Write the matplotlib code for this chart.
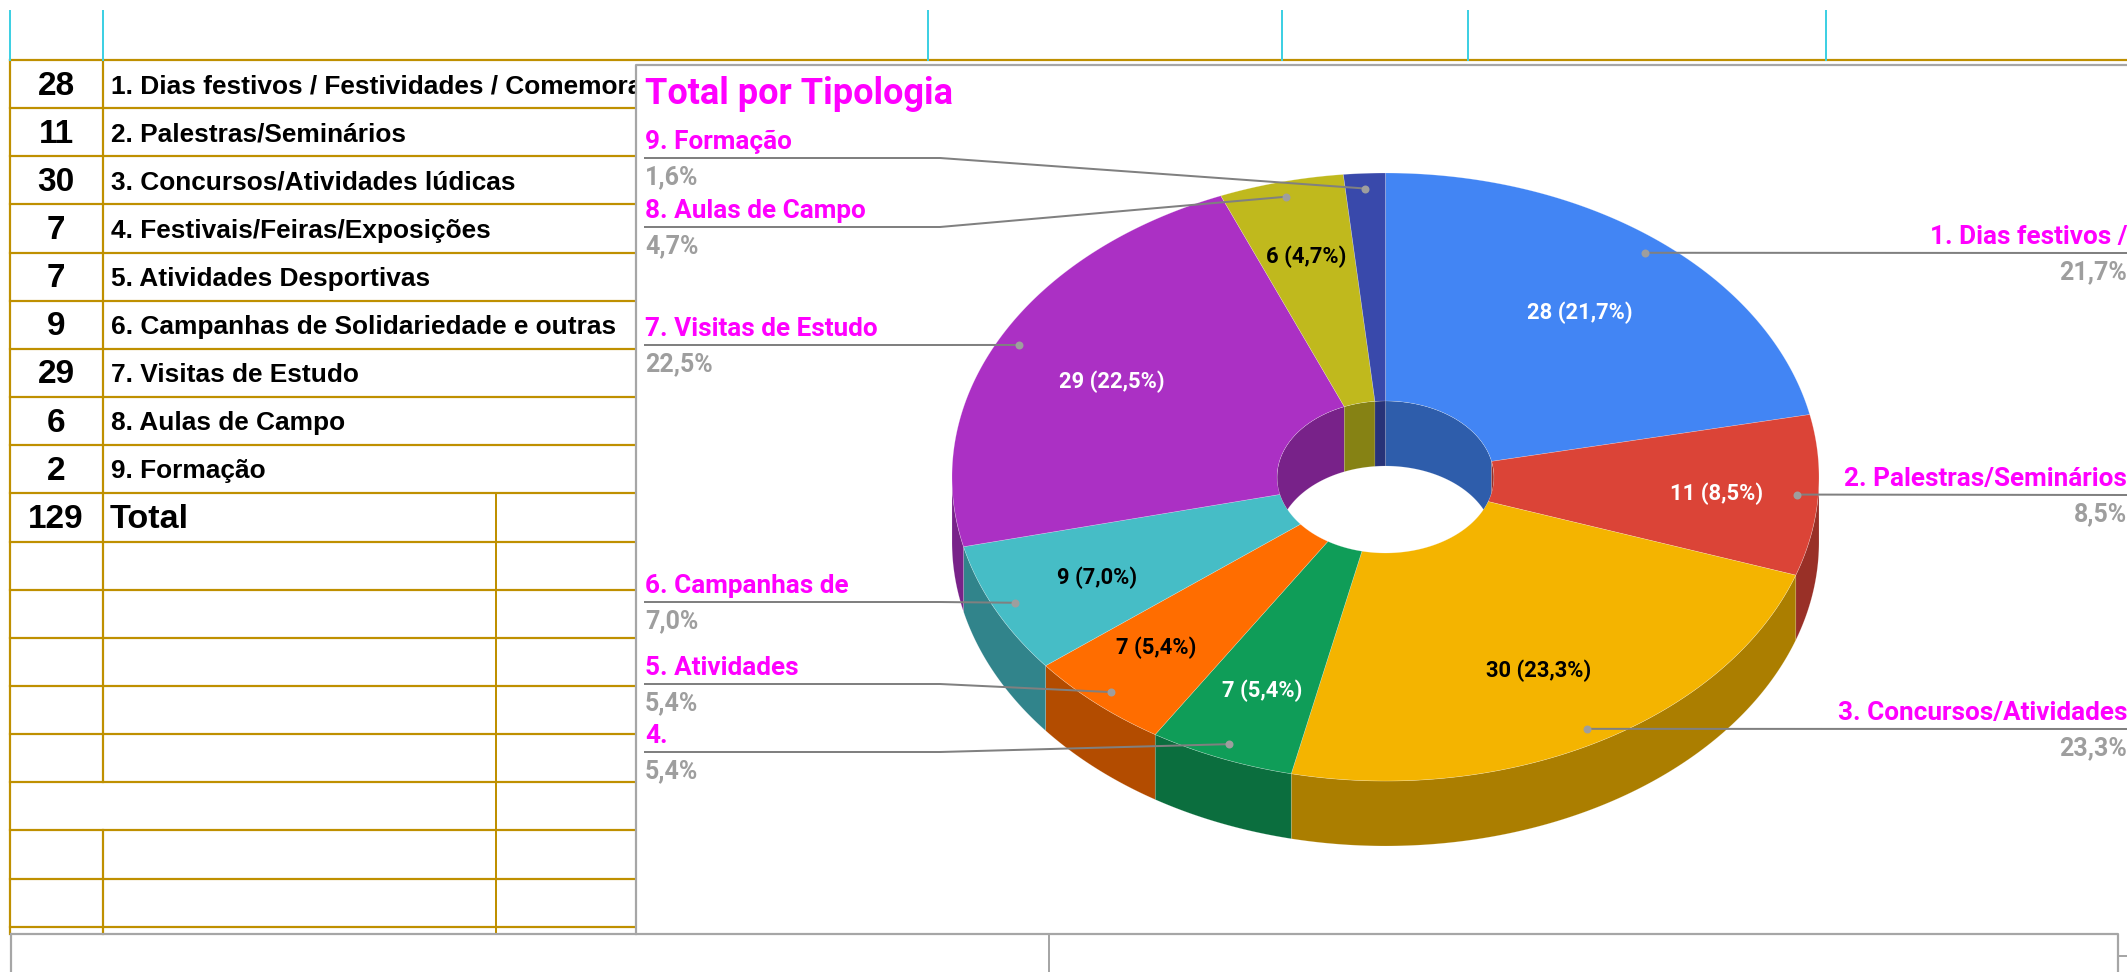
import matplotlib
matplotlib.use("Agg")
import matplotlib.pyplot as plt
from matplotlib.path import Path
from matplotlib.colors import to_rgb
import numpy as np

# table + chart data
categories = ["1. Dias festivos / Festividades / Comemora", "2. Palestras/Seminários",
              "3. Concursos/Atividades lúdicas", "4. Festivais/Feiras/Exposições",
              "5. Atividades Desportivas", "6. Campanhas de Solidariedade e outras",
              "7. Visitas de Estudo", "8. Aulas de Campo", "9. Formação"]
values = [28, 11, 30, 7, 7, 9, 29, 6, 2]
slice_labels = ["1. Dias festivos /", "2. Palestras/Seminários", "3. Concursos/Atividades",
                "4.", "5. Atividades", "6. Campanhas de", "7. Visitas de Estudo",
                "8. Aulas de Campo", "9. Formação"]
percents = ["21,7%", "8,5%", "23,3%", "5,4%", "5,4%", "7,0%", "22,5%", "4,7%", "1,6%"]
colors = ["#4285f4", "#db4437", "#f4b400", "#0f9d58", "#ff6d00", "#46bdc6", "#ab30c4", "#c0b91d", "#3949ab"]
text_colors = ["white", "white", "black", "white", "black", "black", "white", "black", None]

# layout, all in pixels of the 2127x972 picture
cx, cy = 1385.5, 477
rx, ry = 433.5, 304
depth = 65
hole = 0.25
leader_y = [253, 495, 729, 752, 684, 602, 345, 227, 158]
text_r = [0.71, 0.765, 0.72, 0.75, 0.765, 0.74, 0.71, 0.755, 0.7]
text_dx = [0, 0, 0, 0, -8, 0, 0, 0, 0]
text_dy = [3, 3, 3, 3, -2, 3, 3, 3, 3]
GOLD = "#bf9000"
GREY = "#a6a6a6"
CYAN = "#3fd0e3"
LEAD = "#808080"
MAGENTA = "#ff00ff"
PCT = "#9e9e9e"
px = 0.72  # one pixel in points at dpi 100

fig = plt.figure(figsize=(21.27, 9.72), dpi=100)
ax = fig.add_axes([0, 0, 1, 1])
ax.set_xlim(0, 2127)
ax.set_ylim(972, 0)
ax.axis("off")


def ell(t, r=1.0, dy=0):
    # t in degrees, clockwise from the top
    t = np.radians(t)
    return cx + r * rx * np.sin(t), cy - r * ry * np.cos(t) + dy


def darker(c):
    return tuple(v * 0.7 for v in to_rgb(c))


# spreadsheet grid behind the chart
row_y = [60 + 48.15 * i for i in range(19)]
for y in row_y:
    ax.plot([10, 2127 if y == 60 else 640], [y, y], color=GOLD, lw=2.2 * px, zorder=1)
ax.plot([10, 10], [60, 934], color=GOLD, lw=2.2 * px, zorder=1)
ax.plot([103, 103], [60, row_y[15]], color=GOLD, lw=2.2 * px, zorder=1)
ax.plot([103, 103], [row_y[16], 934], color=GOLD, lw=2.2 * px, zorder=1)
ax.plot([496, 496], [row_y[9], 934], color=GOLD, lw=2 * px, zorder=1)
for x in [10, 103, 928, 1282, 1468, 1826]:
    ax.plot([x, x], [11, 60], color=CYAN, lw=2 * px, zorder=1)

for i in range(len(values)):
    ym = (row_y[i] + row_y[i + 1]) / 2
    ax.text(56, ym + 2, str(values[i]), ha="center", va="center", family="Liberation Sans",
            weight="bold", fontsize=24, zorder=2)
    ax.text(111, ym + 2, categories[i], ha="left", va="center", family="Liberation Sans",
            weight="bold", fontsize=18.9, zorder=2)
ym = (row_y[9] + row_y[10]) / 2
ax.text(56, ym + 2, str(sum(values)), ha="center", va="center", family="Liberation Sans",
        weight="bold", fontsize=24, zorder=2)
ax.text(110, ym + 2, "Total", ha="left", va="center", family="Liberation Sans",
        weight="bold", fontsize=24.6, zorder=2)

# chart panel covers the grid
ax.fill([636, 2127, 2127, 636], [65, 65, 934, 934], color="white", zorder=3, lw=0)
ax.plot([636, 636, 2127], [934, 65, 65], color=GREY, lw=2.2 * px, zorder=3.1)
ax.plot([11, 2118, 2118], [934, 934, 972], color=GREY, lw=2.2 * px, zorder=3.1)
ax.plot([11, 11], [934, 972], color=GREY, lw=2.2 * px, zorder=3.1)
ax.plot([1049, 1049], [934, 972], color=GREY, lw=2 * px, zorder=3.1)
ax.plot([2120, 2127], [956, 956], color=GREY, lw=2 * px, zorder=3.1)

ax.text(645, 93.5, "Total por Tipologia", ha="left", va="center", family="Roboto", weight="bold",
        fontsize=26, color=MAGENTA, zorder=6)

# pie: angles come from the values
edges = np.cumsum([0] + values) / sum(values) * 360
for i in range(len(values)):
    a, b = edges[i], edges[i + 1]
    # outer wall, front half only
    lo, hi = max(a, 90), min(b, 270)
    if hi > lo:
        t = np.linspace(lo, hi, 120)
        x, y = ell(t)
        x2, y2 = ell(t[::-1], dy=depth)
        ax.fill(np.r_[x, x2], np.r_[y, y2], fc=darker(colors[i]), ec="#ffffff44", lw=0.4, zorder=4)
for i in range(len(values)):
    a, b = edges[i], edges[i + 1]
    t = np.linspace(a, b, 240)
    x, y = ell(t)
    x2, y2 = ell(t[::-1], hole)
    ax.fill(np.r_[x, x2], np.r_[y, y2], fc=colors[i], ec="#ffffff55", lw=0.4, zorder=4.2)

# inner wall, back half, seen through the hole
hx, hy = ell(np.linspace(0, 360, 361), hole)
hole_path = Path(np.c_[hx, hy])
for i in range(len(values)):
    parts = [(edges[i], min(edges[i + 1], 90)), (max(edges[i], 270), edges[i + 1])]
    for lo, hi in parts:
        if hi <= lo:
            continue
        t = np.linspace(lo, hi, 80)
        x, y = ell(t, hole)
        x2, y2 = ell(t[::-1], hole, dy=depth)
        polys = ax.fill(np.r_[x, x2], np.r_[y, y2], fc=darker(colors[i]), ec="#ffffff33", lw=0.4, zorder=4.4)
        polys[0].set_clip_path(hole_path, ax.transData)

# value labels on the slices
for i in range(len(values)):
    if text_colors[i] is None:
        continue
    mid = (edges[i] + edges[i + 1]) / 2
    x, y = ell(mid, text_r[i])
    ax.text(x + text_dx[i], y + text_dy[i], "%d (%s)" % (values[i], percents[i]),
            ha="center", va="center", family="Roboto", weight="bold", fontsize=15.8,
            color=text_colors[i], zorder=5)

# leaders with the outside labels
for i in range(len(values)):
    mid = (edges[i] + edges[i + 1]) / 2
    dx, dy = ell(mid, 0.95)
    ly = leader_y[i]
    if mid < 180:
        ax.plot([dx, 2127], [dy, ly], color=LEAD, lw=2 * px, zorder=5.1)
        tx, ha = 2127, "right"
    else:
        ax.plot([645, 940, dx], [ly, ly, dy], color=LEAD, lw=2 * px, zorder=5.1)
        tx, ha = 645, "left"
    ax.plot([dx], [dy], "o", color=PCT, ms=8 * px, mew=0, zorder=5.2)
    ax.text(tx, ly - 16.5, slice_labels[i], ha=ha, va="center", family="Roboto", weight="bold",
            fontsize=18.8, color=MAGENTA, zorder=6)
    ax.text(tx, ly + 19.5, percents[i], ha=ha, va="center", family="Roboto", weight="bold",
            fontsize=18, color=PCT, zorder=6)

fig.savefig("out.png", dpi=100)
